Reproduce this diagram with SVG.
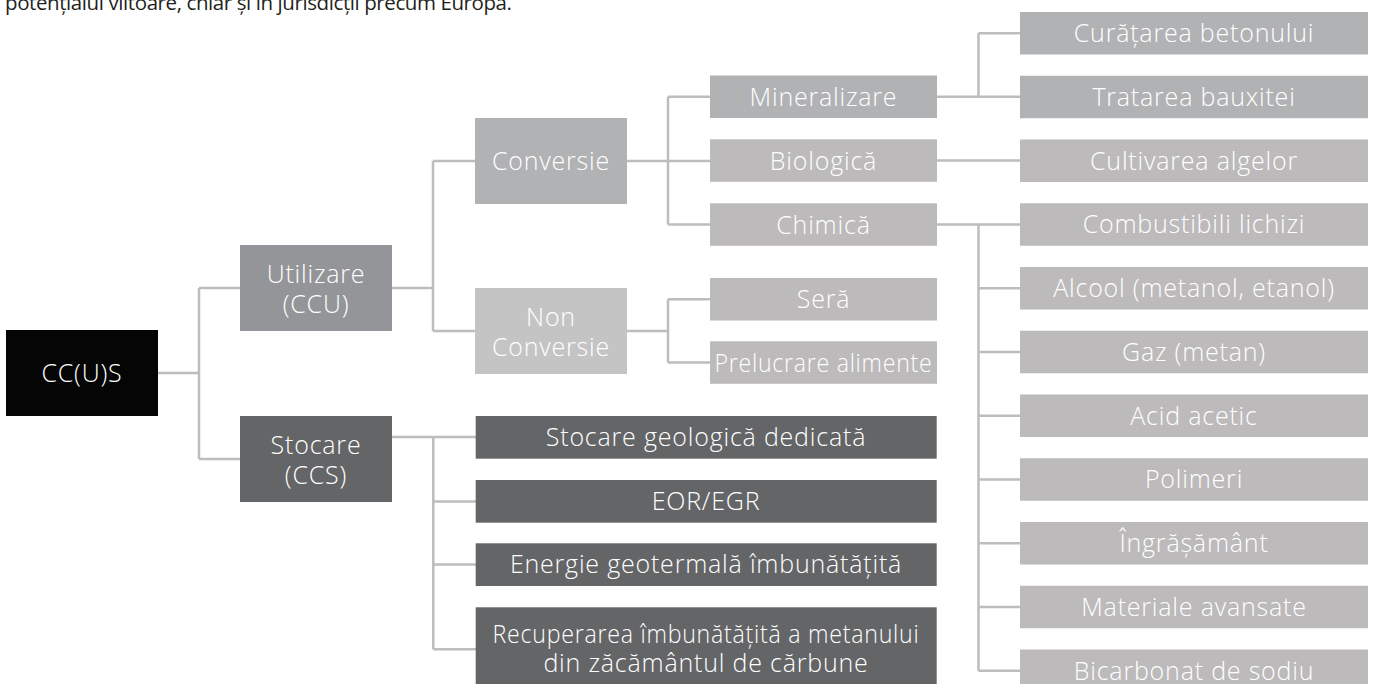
<svg xmlns="http://www.w3.org/2000/svg" width="1373" height="684" viewBox="0 0 1373 684">
<style>
.t{font-family:"Open Sans","Lato","Liberation Sans",sans-serif;font-weight:300;font-size:25px;fill:#ffffff;text-anchor:middle;letter-spacing:0.8px}
.k{fill:#050505}
.u{fill:#939598}
.s{fill:#646567}
.c{fill:#b1b2b4}
.l{fill:#bcbabb}
.n{fill:#c5c4c5}
.w{fill:none;stroke:#bdbdbd;stroke-width:2.5}
.top{font-family:"Open Sans","Lato","Liberation Sans",sans-serif;font-size:20.5px;fill:#231f20}
</style>
<rect width="1373" height="684" fill="#ffffff"/>
<text class="top" x="5" y="10" textLength="507">potențialul viitoare, chiar și în jurisdicții precum Europa.</text>
<g id="connectors" class="w">
<path d="M158 373H199M199 288V459M199 288H240M199 459H240"/>
<path d="M392 288H433M433 161V331M433 161H475M433 331H475"/>
<path d="M392 437H476M433.3 437V649.3M433.3 501.5H476M433.3 564.5H476M433.3 649.3H476"/>
<path d="M627 161H710M668 96.7V224.5M668 96.7H710M668 224.5H710"/>
<path d="M627 331H668M668 299.3V362.5M668 299.3H710M668 362.5H710"/>
<path d="M937 96.7H1020M978.5 33.25V96.7M978.5 33.25H1020"/>
<path d="M937 160.5H1020"/>
<path d="M937 224.5H1020M978.5 224.5V670.75M978.5 288.25H1020M978.5 352H1020M978.5 415.75H1020M978.5 479.5H1020M978.5 543.25H1020M978.5 607H1020M978.5 670.75H1020"/>
</g>
<g id="ccus"><rect class="k" x="6" y="330" width="152" height="86"/><text class="t" x="82" y="382">CC(U)S</text></g>
<g id="utilizare"><rect class="u" x="240" y="245" width="152" height="86"/><text class="t" x="316" y="283">Utilizare</text><text class="t" x="316" y="313">(CCU)</text></g>
<g id="stocare"><rect class="s" x="240" y="416" width="152" height="86"/><text class="t" x="316" y="454">Stocare</text><text class="t" x="316" y="484">(CCS)</text></g>
<g id="conversie"><rect class="c" x="475" y="118" width="152" height="86"/><text class="t" x="551" y="170">Conversie</text></g>
<g id="nonconversie"><rect class="n" x="475" y="288" width="152" height="86"/><text class="t" x="551" y="326">Non</text><text class="t" x="551" y="356">Conversie</text></g>
<g id="mineralizare"><rect class="c" x="710" y="75.5" width="227" height="42.5"/><text class="t" x="823.5" y="105.5">Mineralizare</text></g>
<g id="biologica"><rect class="l" x="710" y="139.3" width="227" height="42.5"/><text class="t" x="823.5" y="169.5">Biologică</text></g>
<g id="chimica"><rect class="l" x="710" y="203.3" width="227" height="42.5"/><text class="t" x="823.5" y="233.5">Chimică</text></g>
<g id="sera"><rect class="l" x="710" y="278" width="227" height="42.5"/><text class="t" x="823.5" y="308">Seră</text></g>
<g id="prelucrare"><rect class="l" x="710" y="341.3" width="227" height="42.5"/><text class="t" x="823.5" y="371.5" textLength="218" lengthAdjust="spacingAndGlyphs">Prelucrare alimente</text></g>
<g id="stocare-geologica"><rect class="s" x="475.7" y="416" width="461" height="42.7"/><text class="t" x="706" y="446">Stocare geologică dedicată</text></g>
<g id="eor"><rect class="s" x="475.7" y="480" width="461" height="42.7"/><text class="t" x="706" y="510">EOR/EGR</text></g>
<g id="energie"><rect class="s" x="475.7" y="543.3" width="461" height="42.7"/><text class="t" x="706" y="573.3">Energie geotermală îmbunătățită</text></g>
<g id="recuperarea"><rect class="s" x="475.7" y="607.3" width="461" height="84"/><text class="t" x="706" y="643.3" textLength="427" lengthAdjust="spacingAndGlyphs">Recuperarea îmbunătățită a metanului</text><text class="t" x="706" y="672">din zăcământul de cărbune</text></g>
<g id="curatarea"><rect class="c" x="1020" y="12" width="348" height="42.5"/><text class="t" x="1194" y="42">Curățarea betonului</text></g>
<g id="tratarea"><rect class="c" x="1020" y="75.75" width="348" height="42.5"/><text class="t" x="1194" y="105.75">Tratarea bauxitei</text></g>
<g id="cultivarea"><rect class="l" x="1020" y="139.5" width="348" height="42.5"/><text class="t" x="1194" y="169.5">Cultivarea algelor</text></g>
<g id="combustibili"><rect class="l" x="1020" y="203.25" width="348" height="42.5"/><text class="t" x="1194" y="233.25">Combustibili lichizi</text></g>
<g id="alcool"><rect class="l" x="1020" y="267" width="348" height="42.5"/><text class="t" x="1194" y="297">Alcool (metanol, etanol)</text></g>
<g id="gaz"><rect class="l" x="1020" y="330.75" width="348" height="42.5"/><text class="t" x="1194" y="360.75">Gaz (metan)</text></g>
<g id="acid"><rect class="l" x="1020" y="394.5" width="348" height="42.5"/><text class="t" x="1194" y="424.5">Acid acetic</text></g>
<g id="polimeri"><rect class="l" x="1020" y="458.25" width="348" height="42.5"/><text class="t" x="1194" y="488.25">Polimeri</text></g>
<g id="ingrasamant"><rect class="l" x="1020" y="522" width="348" height="42.5"/><text class="t" x="1194" y="552">Îngrășământ</text></g>
<g id="materiale"><rect class="l" x="1020" y="585.75" width="348" height="42.5"/><text class="t" x="1194" y="615.75">Materiale avansate</text></g>
<g id="bicarbonat"><rect class="l" x="1020" y="649.5" width="348" height="42.5"/><text class="t" x="1194" y="679.5">Bicarbonat de sodiu</text></g>
</svg>
